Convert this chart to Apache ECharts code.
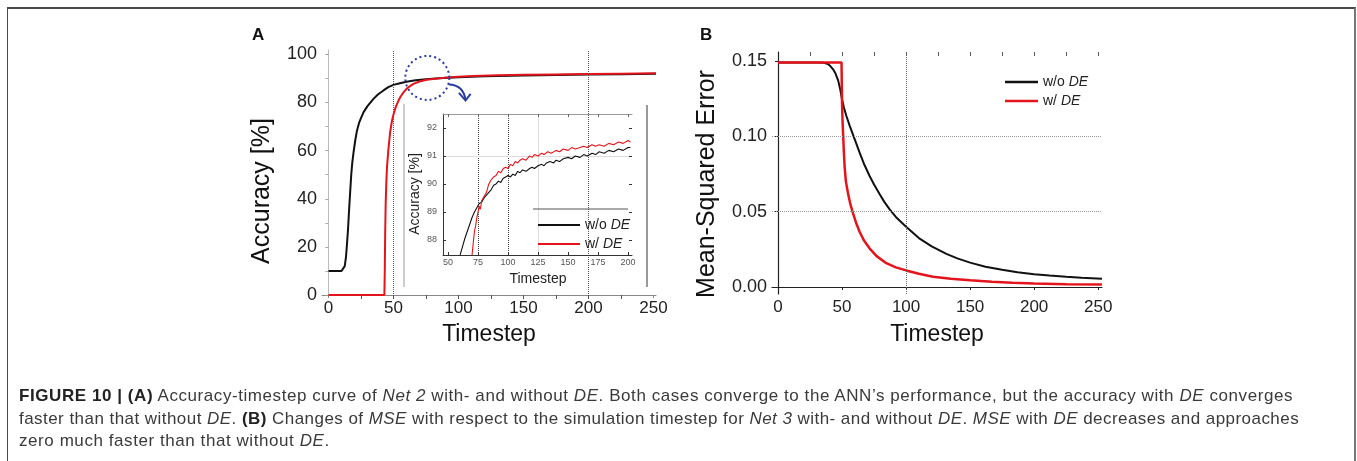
<!DOCTYPE html>
<html><head><meta charset="utf-8">
<script src="https://cdn.jsdelivr.net/npm/echarts@6/dist/echarts.min.js"></script>
<style>
html,body{margin:0;padding:0;background:#fff;}
#chart{position:absolute;left:0;top:0;width:1357px;height:461px;}
#frame{position:absolute;left:7px;top:7px;width:1346px;height:470px;border-top:2px solid #4a4a4a;border-left:1px solid #4a4a4a;border-right:2px solid #777;pointer-events:none;}
#cap{position:absolute;left:19px;top:385px;font-family:'Liberation Sans',Arial,sans-serif;font-size:17px;line-height:22.5px;color:#3a3a3a;white-space:nowrap;}
#cap div{display:block;}
#cap span.l{display:inline-block;}
#cap b{color:#222}
</style></head>
<body>
<div id="chart"></div>
<div id="frame"></div>
<div id="cap">
<div><span class="l"><b>FIGURE 10 | (A)</b> Accuracy-timestep curve of <i>Net 2</i> with- and without <i>DE</i>. Both cases converge to the ANN’s performance, but the accuracy with <i>DE</i> converges</span></div>
<div><span class="l">faster than that without <i>DE</i>. <b>(B)</b> Changes of <i>MSE</i> with respect to the simulation timestep for <i>Net 3</i> with- and without <i>DE</i>. <i>MSE</i> with <i>DE</i> decreases and approaches</span></div>
<div><span class="l">zero much faster than that without <i>DE</i>.</span></div>
</div>
<script>
// ---------- data ----------
const seriesNames = ['w/o DE', 'w/ DE'];

// Panel A main: accuracy [%] vs timestep
const accBlack = [[0,10],[5,10],[10,10],[11.5,10.5],[12.5,12],[13.5,16],[14.2,21],[15,27],[15.8,35],[16.7,43],[17.5,50],[18.3,55],[19.2,59],[20.5,64],[21.8,68],[23.5,71.5],[25,73.5],[27,76],[30,78.5],[34.6,81.5],[38,83.3],[42.3,85],[46,86.4],[50,87.3],[55,88],[60,88.6],[67,89.2],[75,89.6],[85,90.1],[100,90.5],[120,90.9],[150,91.2],[175,91.4],[200,91.6],[225,91.75],[252,91.9]];
const accRed = [[0,0],[43,0],[43.3,10],[43.6,25],[44,38],[44.5,47],[45,53],[46,60],[47.4,67.5],[48.7,72],[50,75],[52,78.5],[53.8,80.7],[55.5,82.5],[57.7,84.2],[60.3,85.8],[63,86.9],[65.4,87.7],[70,88.7],[75.6,89.4],[82,89.9],[91,90.4],[100,90.7],[111.5,91.0],[130,91.3],[150,91.5],[175,91.65],[200,91.8],[225,91.95],[252,92.1]];

// Panel A inset (zoomed)
const insetBlack = [[60,87.45],[62,87.75],[64,88.05],[65,88.0],[66,88.3],[68,88.55],[70,88.8],[71,88.75],[72,89.0],[74,89.15],[75,89.2],[76,89.3],[78,89.35],[80,89.5],[82,89.6],[84,89.7],[86,89.8],[88,89.95],[90,90.0],[92,90.1],[94,90.05],[96,90.2],[98,90.25],[100,90.3],[102,90.25],[104,90.35],[106,90.3],[108,90.45],[110,90.4],[112,90.5],[115,90.45],[118,90.55],[120,90.6],[122,90.55],[125,90.65],[128,90.7],[130,90.65],[132,90.75],[135,90.8],[138,90.75],[140,90.85],[143,90.8],[146,90.9],[150,90.95],[153,90.9],[156,91.0],[160,90.95],[163,91.05],[166,91.0],[170,91.1],[173,91.05],[176,91.15],[180,91.1],[184,91.2],[188,91.15],[192,91.25],[196,91.2],[200,91.3],[202,91.3]];
const insetRed = [[70,87.45],[71,87.9],[72,88.3],[73,88.5],[74,88.8],[75,89.0],[76,89.2],[77,89.1],[78,89.4],[80,89.55],[82,89.7],[84,90.0],[86,90.15],[88,90.25],[90,90.3],[92,90.45],[94,90.4],[96,90.55],[98,90.6],[100,90.55],[102,90.7],[104,90.65],[106,90.8],[108,90.75],[110,90.85],[112,90.9],[115,90.85],[118,91.0],[120,90.95],[122,91.05],[125,91.0],[128,91.1],[130,91.05],[133,91.15],[136,91.1],[140,91.2],[143,91.15],[146,91.25],[150,91.2],[153,91.3],[156,91.25],[160,91.3],[163,91.35],[166,91.3],[170,91.4],[173,91.35],[176,91.4],[180,91.35],[184,91.45],[188,91.4],[192,91.5],[196,91.45],[200,91.55],[202,91.5]];

// Panel B: MSE vs timestep
const mseBlack = [[0,0.149],[30,0.149],[36,0.1488],[39,0.148],[41,0.1465],[43,0.1445],[45,0.1415],[47,0.137],[48.5,0.1315],[50,0.1245],[51.5,0.119],[53.4,0.1135],[56,0.107],[58.6,0.101],[61,0.0955],[63.8,0.089],[67,0.082],[71.6,0.0735],[75,0.068],[79.4,0.0615],[83,0.0565],[87.2,0.0515],[92,0.0465],[100,0.040],[110,0.0325],[120,0.027],[131.5,0.022],[140,0.019],[150,0.0162],[162,0.0135],[175,0.0115],[187,0.0098],[200,0.0085],[212,0.0076],[225,0.0068],[237,0.0061],[253,0.0055]];
const mseRed = [[0,0.149],[49.6,0.149],[49.8,0.135],[50,0.122],[50.4,0.11],[50.8,0.102],[51.4,0.09],[52,0.08],[53,0.07],[54.7,0.062],[56.5,0.055],[58.6,0.0488],[61,0.0425],[63.8,0.0365],[67,0.031],[71.6,0.0255],[77,0.0205],[84.6,0.0158],[92,0.013],[100,0.011],[110,0.0088],[121,0.0068],[135,0.0054],[150,0.0044],[167,0.0035],[183,0.0028],[200,0.0023],[225,0.0019],[253,0.0016]];

// tick values / labels
const xTicksA = [0,50,100,150,200,250];
const yTicksA = [0,20,40,60,80,100];
const topTicksA = [25,50,75,100,125,150,175,200,225];
const rightTicksA = [10,20,30,40,50,60,70,80,90];
const xTicksInset = [50,75,100,125,150,175,200];
const yTicksInset = [88,89,90,91,92];
const xTicksB = [0,50,100,150,200,250];
const yTicksB = [0,0.05,0.10,0.15];
const yTickLabelsB = ['0.00','0.05','0.10','0.15'];
const topTicksB = [25,50,75,100,125,150,175,200,225,250];

// ---------- caption fitting (first two lines span the text block width) ----------
(function fitCaption(){
  const lines = document.querySelectorAll('#cap span.l');
  const targets = [1274, 1280];
  for (let k = 0; k < 2; k++) {
    const el = lines[k];
    const w = el.getBoundingClientRect().width;
    const n = el.textContent.length;
    el.style.letterSpacing = ((targets[k] - w) / n).toFixed(3) + 'px';
  }
  lines[2].style.letterSpacing = lines[0].style.letterSpacing;
})();

// ---------- chart ----------
const FONT = "'Liberation Sans', Arial, sans-serif";
const BLACK = '#111111', RED = '#e3141b';
const chart = echarts.init(document.getElementById('chart'), null, {renderer:'canvas'});

const legendFmt = n => n.replace('DE', '{i|DE}');
const legendRich = (fs) => ({ i:{fontStyle:'italic', fontSize:fs, fontFamily:FONT, color:'#222', lineHeight:16} });

const hidden = {show:false};
const option = {
  animation:false,
  backgroundColor:'#fff',
  textStyle:{fontFamily:FONT},
  grid:[
    {left:322, top:50, width:334, height:246},
    {left:443, top:114, width:189, height:141, z:10},
    {left:772, top:52, width:330, height:242}
  ],
  legend:[
    {data:seriesNames, orient:'vertical', left:533, top:212, itemWidth:42, itemHeight:2, itemGap:3, icon:'rect', z:12,
     textStyle:{fontSize:14, color:'#222', fontFamily:FONT, lineHeight:16, rich:legendRich(14)}, formatter:legendFmt, selectedMode:false},
    {data:seriesNames, orient:'vertical', left:1000, top:69, itemWidth:33, itemHeight:2.5, itemGap:3, icon:'rect',
     textStyle:{fontSize:14, color:'#222', fontFamily:FONT, lineHeight:16, rich:legendRich(14)}, formatter:legendFmt, selectedMode:false}
  ],
  xAxis:[
    {gridIndex:0, type:'value', min:-5, max:252, position:'bottom',
     axisLine:{lineStyle:{color:'#888'}}, axisTick:{length:3, customValues:xTicksA, lineStyle:{color:'#888'}},
     axisLabel:{customValues:xTicksA, fontSize:17, color:'#222', margin:4}, splitLine:hidden},
    {gridIndex:1, type:'value', min:45.8, max:203.3, position:'bottom', z:10,
     axisLine:{lineStyle:{color:'#333'}}, axisTick:{inside:true, length:3, customValues:xTicksInset, lineStyle:{color:'#333'}},
     axisLabel:{customValues:xTicksInset, fontSize:9, color:'#555', margin:3}, splitLine:hidden},
    {gridIndex:2, type:'value', min:-4.7, max:253, position:'bottom',
     axisLine:{lineStyle:{color:'#222', width:1.2}}, axisTick:{length:3, customValues:xTicksB, lineStyle:{color:'#222'}},
     axisLabel:{customValues:xTicksB, fontSize:17, color:'#222', margin:5}, splitLine:hidden},
    {gridIndex:0, type:'value', min:-5, max:252, position:'top', axisLine:hidden,
     axisTick:{inside:true, length:4, customValues:topTicksA, lineStyle:{color:'#555'}}, axisLabel:hidden, splitLine:hidden},
    {gridIndex:1, type:'value', min:45.8, max:203.3, position:'top', z:10,
     axisLine:{lineStyle:{color:'#999'}}, axisTick:{inside:true, length:3, customValues:xTicksInset, lineStyle:{color:'#666'}}, axisLabel:hidden, splitLine:hidden},
    {gridIndex:2, type:'value', min:-4.7, max:253, position:'top', axisLine:hidden,
     axisTick:{inside:true, length:4, customValues:topTicksB, lineStyle:{color:'#555'}}, axisLabel:hidden, splitLine:hidden}
  ],
  yAxis:[
    {gridIndex:0, type:'value', min:-0.4, max:101.8, position:'left',
     axisLine:{show:true, lineStyle:{color:'#bbb'}}, axisTick:{show:true, length:3, customValues:yTicksA, lineStyle:{color:'#999'}},
     axisLabel:{customValues:yTicksA, fontSize:18, color:'#222', margin:5}, splitLine:hidden},
    {gridIndex:1, type:'value', min:87.46, max:92.5, position:'left', z:10,
     axisLine:{show:true, lineStyle:{color:'#333'}}, axisTick:{show:true, inside:true, length:3, customValues:yTicksInset, lineStyle:{color:'#333'}},
     axisLabel:{customValues:yTicksInset, fontSize:9, color:'#555', margin:6}, splitLine:hidden},
    {gridIndex:2, type:'value', min:-0.00465, max:0.156, position:'left',
     axisLine:{show:true, lineStyle:{color:'#222', width:1.2}}, axisTick:{show:true, length:3, customValues:yTicksB, lineStyle:{color:'#222'}},
     axisLabel:{customValues:yTicksB, fontSize:18, color:'#222', margin:5,
       formatter:v => yTickLabelsB[yTicksB.findIndex(t => Math.abs(t - v) < 1e-9)]}, splitLine:hidden},
    {gridIndex:0, type:'value', min:-0.4, max:101.8, position:'right', axisLine:hidden,
     axisTick:{show:true, inside:true, length:3, customValues:rightTicksA, lineStyle:{color:'#aaa'}}, axisLabel:hidden, splitLine:hidden},
    {gridIndex:1, type:'value', min:87.46, max:92.5, position:'right', z:10, axisLine:hidden,
     axisTick:{show:true, inside:true, length:3, customValues:yTicksInset, lineStyle:{color:'#333'}}, axisLabel:hidden, splitLine:hidden}
  ],
  series:[
    {type:'line', name:seriesNames[0], xAxisIndex:0, yAxisIndex:0, data:accBlack, showSymbol:false, color:BLACK,
     lineStyle:{width:2, color:BLACK}, z:2,
     markLine:{silent:true, symbol:'none', label:{show:false}, lineStyle:{type:'dotted', color:'#555', width:1},
       data:[{xAxis:50},{xAxis:200}]}},
    {type:'line', name:seriesNames[1], xAxisIndex:0, yAxisIndex:0, data:accRed, showSymbol:false, color:RED,
     lineStyle:{width:2, color:RED}, z:2},
    {type:'line', name:seriesNames[0], xAxisIndex:1, yAxisIndex:1, data:insetBlack, showSymbol:false, color:BLACK,
     lineStyle:{width:1.1, color:BLACK}, z:10,
     markLine:{silent:true, symbol:'none', label:{show:false}, lineStyle:{type:'dotted', color:'#444', width:1},
       data:[{xAxis:75},{xAxis:100},{xAxis:125, lineStyle:{type:'solid', color:'#ddd'}},{yAxis:91, lineStyle:{type:'solid', color:'#ddd'}}]}},
    {type:'line', name:seriesNames[1], xAxisIndex:1, yAxisIndex:1, data:insetRed, showSymbol:false, color:RED,
     lineStyle:{width:1.1, color:RED}, z:10},
    {type:'line', name:seriesNames[0], xAxisIndex:2, yAxisIndex:2, data:mseBlack, showSymbol:false, color:BLACK,
     lineStyle:{width:2, color:BLACK},
     markLine:{silent:true, symbol:'none', label:{show:false}, lineStyle:{type:'dotted', color:'#999', width:1},
       data:[{yAxis:0.05},{yAxis:0.10},{xAxis:100, lineStyle:{type:'dotted', color:'#666'}}]}},
    {type:'line', name:seriesNames[1], xAxisIndex:2, yAxisIndex:2, data:mseRed, showSymbol:false, color:RED,
     lineStyle:{width:2.5, color:RED}}
  ],
  graphic:{elements:[
    {id:'insetBg', type:'rect', shape:{x:404, y:101, width:243, height:190}, style:{fill:'#fff'}, z:5, silent:true},
    {id:'insetL', type:'line', shape:{x1:404, y1:104, x2:404, y2:287}, style:{stroke:'#999', lineWidth:1}, z:6, silent:true},
    {id:'insetR', type:'line', shape:{x1:647, y1:105, x2:647, y2:287}, style:{stroke:'#777', lineWidth:1.5}, z:6, silent:true},
    {id:'legSep', type:'line', shape:{x1:533, y1:209, x2:628, y2:209}, style:{stroke:'#555', lineWidth:1}, z:12, silent:true},
    {id:'lblA', type:'text', x:252, y:35, style:{text:'A', font:'bold 17px ' + FONT, fill:'#111', verticalAlign:'middle'}, z:12},
    {id:'lblB', type:'text', x:700, y:35, style:{text:'B', font:'bold 17px ' + FONT, fill:'#111', verticalAlign:'middle'}, z:12},
    {id:'yTitleA', type:'text', x:262, y:191, rotation:Math.PI/2, style:{text:'Accuracy [%]', font:'25px ' + FONT, fill:'#111', align:'center', verticalAlign:'middle'}, z:12},
    {id:'xTitleA', type:'text', x:489, y:335, style:{text:'Timestep', font:'23px ' + FONT, fill:'#111', align:'center', verticalAlign:'middle'}, z:12},
    {id:'yTitleB', type:'text', x:707, y:184, rotation:Math.PI/2, style:{text:'Mean-Squared Error', font:'25px ' + FONT, fill:'#111', align:'center', verticalAlign:'middle'}, z:12},
    {id:'xTitleB', type:'text', x:937, y:335, style:{text:'Timestep', font:'23px ' + FONT, fill:'#111', align:'center', verticalAlign:'middle'}, z:12},
    {id:'yTitleI', type:'text', x:415, y:194, rotation:Math.PI/2, style:{text:'Accuracy [%]', font:'14px ' + FONT, fill:'#222', align:'center', verticalAlign:'middle'}, z:12},
    {id:'xTitleI', type:'text', x:538, y:279, style:{text:'Timestep', font:'14px ' + FONT, fill:'#222', align:'center', verticalAlign:'middle'}, z:12}
  ]}
};
chart.setOption(option);

// zoom-region annotation (dotted circle + arrow), placed in data coordinates
const c = chart.convertToPixel({xAxisIndex:0, yAxisIndex:0}, [76, 90.2]);
const cx = c[0], cy = c[1];
chart.setOption({graphic:{elements:[
  {id:'circ', type:'circle', shape:{cx:cx, cy:cy, r:22}, style:{fill:'none', stroke:'#2b3c9e', lineWidth:2, lineDash:[2,3]}, z:20, silent:true},
  {id:'arr', type:'bezierCurve', shape:{x1:cx+21.6, y1:cy+6.6, cpx1:cx+36, cpy1:cy+7, x2:cx+38.3, y2:cy+22}, style:{fill:'none', stroke:'#2b3c9e', lineWidth:2}, z:20, silent:true},
  {id:'arrH', type:'polyline', shape:{points:[[cx+31.6, cy+15],[cx+38.3, cy+22.6],[cx+43.3, cy+16]]}, style:{fill:'none', stroke:'#2b3c9e', lineWidth:2}, z:20, silent:true}
]}});
</script>
</body></html>
